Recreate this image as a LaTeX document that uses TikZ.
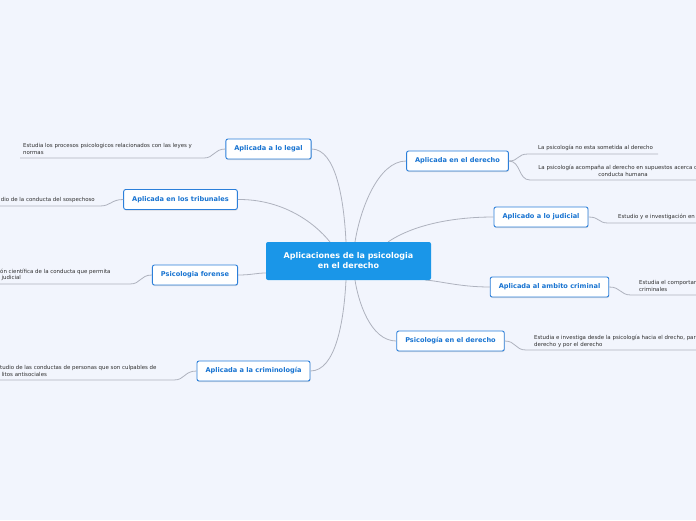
\documentclass[tikz,border=0pt]{standalone}
\usepackage{fontspec}
\setmainfont{DejaVu Sans}
\usetikzlibrary{shadows}
\definecolor{bgc}{HTML}{F2F5FD}
\definecolor{cfill}{HTML}{1A96E8}
\definecolor{nborder}{HTML}{2B7FDA}
\definecolor{ntext}{HTML}{1773D1}
\definecolor{lnc}{HTML}{AEB2BE}
\definecolor{ltext}{HTML}{2E2E2E}
\tikzset{
  mainbox/.style={draw=nborder, line width=0.9pt, rounded corners=2pt, fill=white,
    text=ntext, font=\fontsize{6.6}{7.5}\selectfont\bfseries, minimum height=20pt,
    inner xsep=8.5pt, drop shadow={shadow xshift=0.4pt, shadow yshift=-1pt, opacity=0.25}},
  centerbox/.style={fill=cfill, rounded corners=2pt, text=white,
    font=\fontsize{8}{10}\selectfont\bfseries, align=center, minimum width=165pt, minimum height=38pt},
  leaf/.style={text=ltext, font=\fontsize{5.45}{6.6}\selectfont, inner sep=0pt},
  conn/.style={draw=lnc, line width=0.8pt},
}
\begin{document}
\begin{tikzpicture}[x=1pt,y=-1pt]
\fill[bgc] (0,0) rectangle (696,520);
\useasboundingbox (0,0) rectangle (696,520);
\clip (0,0) rectangle (696,520);

% connectors from centre
\coordinate (cLegal) at (346,242);
\coordinate (cTrib) at (330,242);
\coordinate (cFor) at (266,273);
\coordinate (cCrim) at (346,280);
\coordinate (cDer) at (355,242);
\coordinate (cJud) at (388,242);
\coordinate (cAmb) at (425,280);
\coordinate (cPder) at (355,280);

\node[mainbox] (legal) at (268.5,149) {Aplicada a lo legal};
\node[mainbox] (trib) at (180.5,199.5) {Aplicada en los tribunales};
\node[mainbox] (foren) at (195,275) {Psicologia forense};
\node[mainbox] (crim) at (253.5,371) {Aplicada a la criminología};
\node[mainbox] (der) at (457.5,161) {Aplicada en el derecho};
\node[mainbox] (jud) at (541,217) {Aplicado a lo judicial};
\node[mainbox] (amb) at (549.5,287) {Aplicada al ambito criminal};
\node[mainbox] (pder) at (450.5,341) {Psicología en el derecho};

\draw[conn] (legal.east) .. controls (336,149) and (344,200) .. (cLegal);
\draw[conn] (trib.east) .. controls (282,199) and (314,222) .. (cTrib);
\draw[conn] (foren.east) .. controls (252,275) and (256,273) .. (cFor);
\draw[conn] (crim.east) .. controls (336,371) and (344,320) .. (cCrim);
\draw[conn] (der.west) .. controls (378,161) and (360,210) .. (cDer);
\draw[conn] (jud.west) .. controls (440,217) and (405,230) .. (cJud);
\draw[conn] (amb.west) .. controls (460,287) and (440,281) .. (cAmb);
\draw[conn] (pder.west) .. controls (370,341) and (358,300) .. (cPder);

\node[centerbox] (center) at (348.5,261) {Aplicaciones de la psicologia\\en el derecho};

% leaves left
\node[leaf, anchor=west, align=left] (l1) at (23,149) {Estudia los procesos psicologicos relacionados con las leyes y\\normas};
\coordinate (u1) at (20,158);
\draw[conn] (legal.west) .. controls (214,149) and (214,158) .. (204,158) -- (u1);

\node[leaf, anchor=east] (l2) at (95,200) {dio de la conducta del sospechoso};
\coordinate (u2) at (0,206);
\draw[conn] (trib.west) .. controls (111,199.5) and (111,206) .. (100,206) -- (u2);

\node[leaf, anchor=west, align=left] (l3) at (0,275) {ón científica de la conducta que permita\\\hspace{1.5pt}judicial};
\coordinate (u3) at (0,284);
\draw[conn] (foren.west) .. controls (140,275) and (141,284) .. (130,284) -- (u3);

\node[leaf, anchor=west, align=left] (l4) at (0,371) {tudio de las conductas de personas que son culpables de\\\hspace{1.5pt}litos antisociales};
\coordinate (u4) at (0,380);
\draw[conn] (crim.west) .. controls (184,371) and (185,380) .. (174,380) -- (u4);

% leaves right
\node[leaf, anchor=west] (r1) at (538,148) {La psicología no esta sometida al derecho};
\coordinate (v1) at (658,154);
\draw[conn] (der.east) .. controls (519,161) and (517,154) .. (528,154) -- (v1);

\node[leaf, align=center] (r2) at (623,171) {La psicología acompaña al derecho en supuestos acerca de la\\conducta humana};
\coordinate (v2) at (696,180);
\draw[conn] (der.east) .. controls (521,161) and (518,180) .. (530,180) -- (v2);

\node[leaf, anchor=west] (r3) at (618,217) {Estudio y e investigación en};
\coordinate (v3) at (696,223);
\draw[conn] (jud.east) .. controls (600,217) and (598,223) .. (608,223) -- (v3);

\node[leaf, anchor=west, align=left] (r4) at (639,286) {Estudia el comportam\\criminales};
\coordinate (v4) at (696,295);
\draw[conn] (amb.east) .. controls (621,287) and (620,295) .. (631,295) -- (v4);

\node[leaf, anchor=west, align=left] (r5) at (534,341.5) {Estudia e investiga desde la psicología hacia el drecho, par\\derecho y por el derecho};
\coordinate (v5) at (696,350);
\draw[conn] (pder.east) .. controls (516,341) and (515,350) .. (526,350) -- (v5);
\end{tikzpicture}
\end{document}
